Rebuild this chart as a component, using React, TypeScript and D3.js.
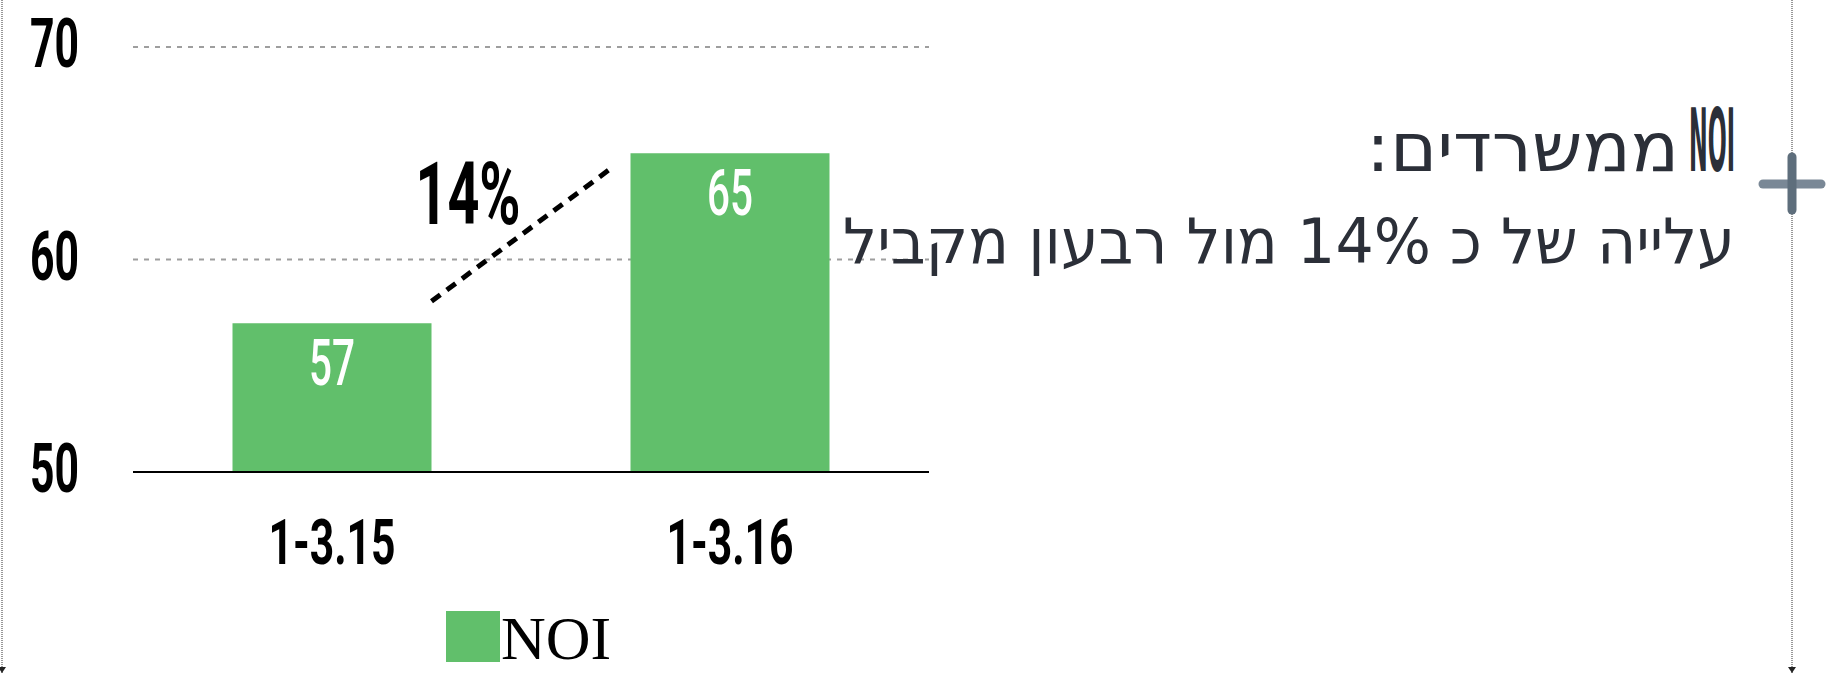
import React from "react";
import * as d3 from "d3";

// data
const periods = ["1-3.15", "1-3.16"];
const noi = [57, 65];
const yTicks = [50, 60, 70];
const changeLabel = "14%";
const legendLabel = "NOI";
const titleLatin = "NOI";
const titleHebrew = "ממשרדים:";
const subtitle = "עלייה של כ 14% מול רבעון מקביל";

const W = 1828;
const H = 673;
const green = "#61BF6B";
const condensed = "Roboto, 'DejaVu Sans', sans-serif";

// text squeezed to a given width, like the condensed font of the original
function CText(props: any) {
  const { x, y, w, size, anchor = "middle", weight = 700, fill = "#000", family = condensed, rtl = false, children } = props;
  return (
    <text
      x={x}
      y={y}
      textAnchor={anchor}
      fontSize={size}
      fontWeight={weight}
      fill={fill}
      fontFamily={family}
      textLength={w}
      lengthAdjust="spacingAndGlyphs"
      style={rtl ? { direction: "rtl" } : undefined}
    >
      {children}
    </text>
  );
}

export default function App() {
  const left = 133;
  const right = 929;

  const x = d3.scaleBand().domain(periods).range([left, right]).paddingInner(0.5).paddingOuter(0.25);
  const y = d3.scaleLinear().domain([50, 70]).range([472, 47]);

  const bw = x.bandwidth();
  const x1 = x(periods[0])!;
  const x2 = x(periods[1])!;

  return (
    <svg width={W} height={H} style={{ position: "absolute", left: 0, top: 0, background: "#fff" }}>
      {/* frame guides */}
      <line x1={2} x2={2} y1={0} y2={H} stroke="#333" strokeWidth={1} strokeDasharray="1 1" />
      <line x1={1792} x2={1792} y1={0} y2={H} stroke="#333" strokeWidth={1} strokeDasharray="1 1" />
      <path d={`M-2,${H - 6} L6,${H - 6} L2,${H} Z`} fill="#222" />
      <path d={`M1788,${H - 6} L1796,${H - 6} L1792,${H} Z`} fill="#222" />

      {/* grid */}
      {yTicks.filter((t) => t !== 50).map((t) => (
        <line key={t} x1={left} x2={right} y1={y(t)} y2={y(t)} stroke="#9e9e9e" strokeWidth={2} strokeDasharray="5 6" />
      ))}

      {/* y labels */}
      {yTicks.map((t) => (
        <CText key={t} x={79} y={y(t) + 20} w={49} size={69} anchor="end">
          {t}
        </CText>
      ))}

      {/* bars */}
      {periods.map((p, i) => (
        <g key={p}>
          <rect x={x(p)} y={y(noi[i])} width={bw} height={y(50) - y(noi[i])} fill={green} />
          <CText x={x(p)! + bw / 2} y={y(noi[i]) + 62} w={46} size={64} weight={500} fill="#fff">
            {noi[i]}
          </CText>
          <CText x={x(p)! + bw / 2} y={564} w={127} size={63}>
            {p}
          </CText>
        </g>
      ))}

      {/* baseline */}
      <line x1={left} x2={right} y1={y(50)} y2={y(50)} stroke="#000" strokeWidth={2} />

      {/* change annotation */}
      <line
        x1={x1 + bw}
        y1={y(noi[0]) - 22}
        x2={x2 - 18}
        y2={y(noi[1]) + 14}
        stroke="#000"
        strokeWidth={5}
        strokeDasharray="11 8"
      />
      <CText x={x1 + bw - 16} y={224} w={105} size={88} anchor="start">
        {changeLabel}
      </CText>

      {/* legend */}
      <rect x={446} y={611} width={54} height={51} fill={green} />
      <text x={501} y={659} fontFamily="'Liberation Serif', 'Times New Roman', serif" fontSize={62} fill="#000">
        {legendLabel}
      </text>

      {/* side text (rtl: start anchor = right edge) */}
      <CText x={1735} y={171} w={46} size={88} weight={700} fill="#2B2F38" anchor="end" family="'DejaVu Sans', sans-serif">
        {titleLatin}
      </CText>
      <CText x={1679} y={171} w={313} size={68} weight={400} fill="#2B2F38" anchor="start" family="'DejaVu Sans', sans-serif" rtl>
        {titleHebrew}
      </CText>
      <CText x={1735} y={263} w={892} size={63} weight={400} fill="#2B2F38" anchor="start" family="'DejaVu Sans', sans-serif" rtl>
        {subtitle}
      </CText>

      {/* cross icon */}
      <line x1={1763} x2={1821} y1={184} y2={184} stroke="#7A8896" strokeWidth={9} strokeLinecap="round" />
      <line x1={1792} x2={1792} y1={157} y2={210} stroke="#5E6E7C" strokeWidth={9} strokeLinecap="round" />
    </svg>
  );
}
